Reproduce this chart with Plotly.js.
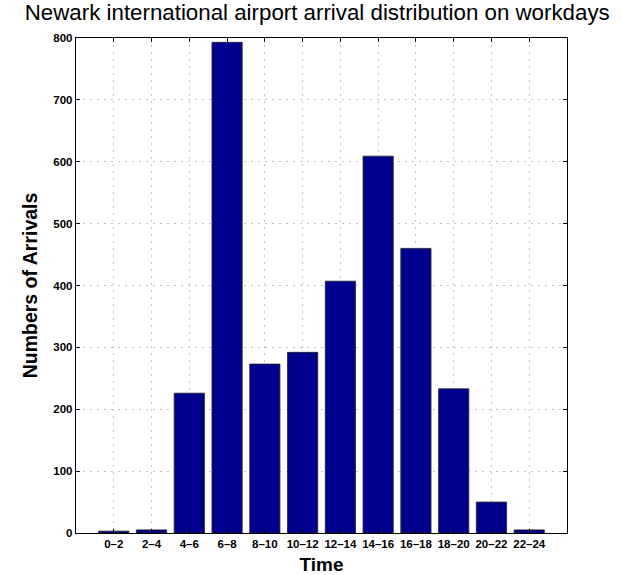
<!DOCTYPE html>
<html>
<head>
<meta charset="utf-8">
<script src="https://cdn.plot.ly/plotly-3.0.1.min.js"></script>
<style>html,body{margin:0;padding:0;background:#fff;}#chart{width:622px;height:575px;}</style>
</head>
<body>
<div id="chart"></div>
<script>
const categories = ["0\u20132","2\u20134","4\u20136","6\u20138","8\u201310","10\u201312","12\u201314","14\u201316","16\u201318","18\u201320","20\u201322","22\u201324"];
const arrivals = [3, 5, 226, 793, 273, 292, 407, 609, 460, 233, 50, 5];
const yTicks = [0,100,200,300,400,500,600,700,800];

const xPos = categories.map((c, i) => i + 1);
const FONT = 'Liberation Sans, Arial, Helvetica, sans-serif';

const trace = {
  type: 'bar',
  x: xPos,
  y: arrivals,
  width: 0.8,
  marker: {color: '#00008f', line: {color: '#222222', width: 0.8}},
  hoverinfo: 'x+y'
};

const layout = {
  width: 622, height: 575,
  margin: {l: 76, r: 55, t: 38, b: 42},
  paper_bgcolor: '#fff', plot_bgcolor: '#fff',
  showlegend: false,
  title: {text: 'Newark international airport arrival distribution on workdays',
          font: {family: FONT, size: 22.3, color: '#000'},
          x: 0.51, xanchor: 'center', y: 0.993, yanchor: 'top'},
  xaxis: {
    range: [0, 13],
    tickmode: 'array', tickvals: xPos, ticktext: categories,
    ticks: 'inside', ticklen: 4, tickcolor: '#000',
    showgrid: true, gridcolor: '#c4c4c4', griddash: '1.5px,5.5px', gridwidth: 1,
    showline: true, linecolor: '#000', linewidth: 1.2, mirror: 'ticks',
    zeroline: false,
    tickfont: {family: FONT, size: 11.5, color: '#000', weight: 'bold'},
    title: {text: '<b>Time</b>', font: {family: FONT, size: 19, color: '#000'}, standoff: 10}
  },
  yaxis: {
    range: [0, 800],
    tickmode: 'array', tickvals: yTicks, ticktext: yTicks.map(String),
    ticks: 'inside', ticklen: 4, tickcolor: '#000',
    showgrid: true, gridcolor: '#c4c4c4', griddash: '1.5px,5.5px', gridwidth: 1,
    showline: true, linecolor: '#000', linewidth: 1.2, mirror: 'ticks',
    zeroline: false,
    tickfont: {family: FONT, size: 11.5, color: '#000', weight: 'bold'},
    title: {text: '<b>Numbers of Arrivals</b>', font: {family: FONT, size: 19.5, color: '#000'}, standoff: 10}
  }
};

Plotly.newPlot('chart', [trace], layout, {displayModeBar: false, staticPlot: true});
</script>
</body>
</html>
